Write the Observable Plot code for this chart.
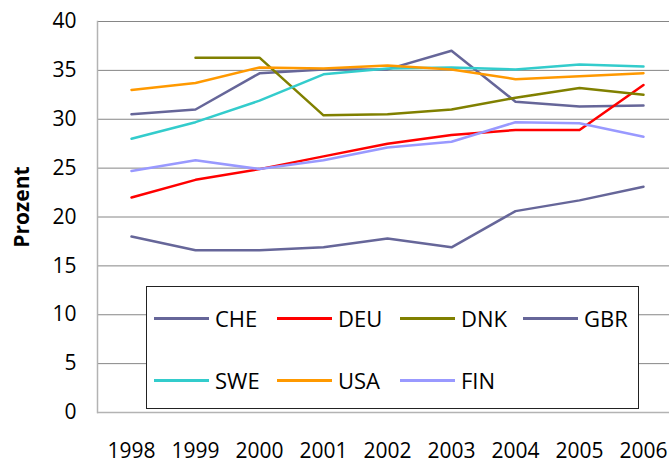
<!DOCTYPE html>
<html><head><meta charset="utf-8">
<script src="https://cdn.jsdelivr.net/npm/d3@7"></script>
<script src="https://cdn.jsdelivr.net/npm/@observablehq/plot@0.6"></script>
<style>
body{margin:0;background:#fff;}
#wrap{position:relative;width:669px;height:465px;overflow:hidden;font-family:"Open Sans",sans-serif;}
#legend{position:absolute;left:146px;top:286px;width:493px;height:123px;border:1px solid #222;background:#fff;
  display:grid;grid-template-columns:repeat(4,123px);grid-template-rows:62px 62px;padding-left:7px;box-sizing:border-box;}
.item{display:flex;align-items:center;font-size:22px;color:#000;white-space:nowrap;}
.swatch{width:55px;height:0;border-top:3px solid;margin-right:6px;}
#ylabel{position:absolute;left:20.5px;top:207px;transform:translate(-50%,-50%) rotate(-90deg);
  font-weight:bold;font-size:21px;color:#000;white-space:nowrap;line-height:1;}
</style></head><body><div id="wrap"></div>
<script>
const years = [1998, 1999, 2000, 2001, 2002, 2003, 2004, 2005, 2006];
const countries = ["CHE", "DEU", "DNK", "GBR", "SWE", "USA", "FIN"];
const colors = ["#666699", "#FF0000", "#808000", "#666699", "#33CCCC", "#FF9900", "#9999FF"];
const CHE = [30.5, 31.0, 34.7, 35.1, 35.1, 37.0, 31.8, 31.3, 31.4];
const DEU = [22.0, 23.8, 24.9, 26.2, 27.5, 28.4, 28.9, 28.9, 33.5];
const DNK = [null, 36.3, 36.3, 30.4, 30.5, 31.0, 32.2, 33.2, 32.5];
const GBR = [18.0, 16.6, 16.6, 16.9, 17.8, 16.9, 20.6, 21.7, 23.1];
const SWE = [28.0, 29.7, 31.9, 34.6, 35.2, 35.3, 35.1, 35.6, 35.4];
const USA = [33.0, 33.7, 35.3, 35.2, 35.5, 35.1, 34.1, 34.4, 34.7];
const FIN = [24.7, 25.8, 24.9, 25.8, 27.1, 27.7, 29.7, 29.6, 28.2];
const yTicks = [0, 5, 10, 15, 20, 25, 30, 35, 40];
const yLabel = "Prozent";

const series = {CHE, DEU, DNK, GBR, SWE, USA, FIN};
const rows = [];
countries.forEach(c => years.forEach((y, j) => {
  const v = series[c][j];
  if (v != null) rows.push({country: c, year: y, value: v});
}));

const chart = Plot.plot({
  width: 669, height: 465,
  marginLeft: 97, marginRight: 0, marginTop: 21, marginBottom: 53,
  style: {fontFamily: "'Open Sans', sans-serif", fontSize: "21px", overflow: "hidden", color: "#000"},
  x: {type: "point", domain: years, padding: 0.5, range: [97, 676]},
  y: {domain: [0, 40]},
  color: {domain: countries, range: colors},
  marks: [
    Plot.ruleY(yTicks.filter(d => d > 0), {stroke: "#868686", strokeWidth: 1}),
    Plot.ruleY([0], {stroke: "#B3B3B3", strokeWidth: 1.5}),
    Plot.frame({anchor: "left", stroke: "#B3B3B3", strokeWidth: 1.5}),
    Plot.axisY({ticks: yTicks, tickSize: 0, tickPadding: 21, fontSize: 21, label: null}),
    Plot.axisX({tickSize: 0, tickPadding: 31, fontSize: 21, label: null, tickFormat: d => String(d)}),
    Plot.line(rows, {x: "year", y: "value", z: "country", stroke: "country", strokeWidth: 2.5})
  ]
});
const wrap = document.getElementById("wrap");
wrap.appendChild(chart);
const yl = document.createElement("div");
yl.id = "ylabel";
yl.textContent = yLabel;
wrap.appendChild(yl);
const legend = document.createElement("div");
legend.id = "legend";
countries.forEach((c, i) => {
  const it = document.createElement("div");
  it.className = "item";
  const sw = document.createElement("span");
  sw.className = "swatch";
  sw.style.borderTopColor = colors[i];
  it.appendChild(sw);
  it.appendChild(document.createTextNode(c));
  legend.appendChild(it);
});
wrap.appendChild(legend);
</script></body></html>
